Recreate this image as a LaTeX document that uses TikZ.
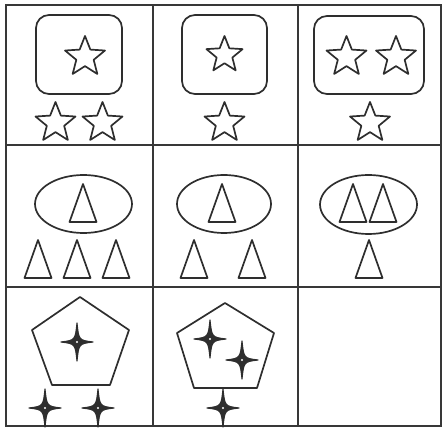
\documentclass[tikz,border=0pt]{standalone}
\usepackage{tikz}
\usetikzlibrary{shapes.geometric}

\tikzset{
  gridline/.style={line width=2.3pt, black!78},
  shapeline/.style={line width=1.7pt, black!82, line join=round},
  fivestar/.style={star, star points=5, star point ratio=2.3, draw, shapeline,
    inner sep=0pt, minimum size=42pt},
  sparkle/.pic={
    \draw[shapeline, line width=1.1pt, fill=black!82] (0,-19) .. controls (1.8,-1.8) .. (16,0)
      .. controls (1.8,1.8) .. (0,19) .. controls (-1.8,1.8) .. (-16,0)
      .. controls (-1.8,-1.8) .. cycle;
    \fill[white] (0,0) circle (1.2pt);
  }
}

\begin{document}
\begin{tikzpicture}[x=1pt, y=-1pt]
    \useasboundingbox (0,0) rectangle (442,430);

    % The 3x3 grid
    \draw[gridline] (6,5) rectangle (441,426);
    \draw[gridline] (153,5) -- (153,426);
    \draw[gridline] (298,5) -- (298,426);
    \draw[gridline] (6,145) -- (441,145);
    \draw[gridline] (6,287) -- (441,287);

    % Row 1: rounded boxes with stars
    \draw[shapeline, rounded corners=13pt] (36,15) rectangle (122,94);
    \node[fivestar] (s11in) at (85,57) {};
    \node[fivestar] (s11a) at (55.5,123) {};
    \node[fivestar] (s11b) at (102.5,123) {};

    \draw[shapeline, rounded corners=13pt] (182,15) rectangle (267,94);
    \node[fivestar, minimum size=38pt] (s12in) at (224.5,55) {};
    \node[fivestar] (s12a) at (224.5,123) {};

    \draw[shapeline, rounded corners=13pt] (314,16) rectangle (424,94);
    \node[fivestar] (s13ina) at (346.5,57) {};
    \node[fivestar] (s13inb) at (396,57) {};
    \node[fivestar] (s13a) at (370,123) {};

    % Row 2: ellipses with triangles
    \draw[shapeline] (83.5,204) ellipse (48.5pt and 29pt);
    \draw[shapeline] (224,204) ellipse (47pt and 29pt);
    \draw[shapeline] (368.5,204.5) ellipse (48.5pt and 29.5pt);
    \foreach \tx/\ty in {83/184, 38/240, 77/240, 116/240,
                         222/184, 194/240, 252/240,
                         353/184, 383/184, 369/240}
      \draw[shapeline] (\tx,\ty) -- ++(13.5,38) -- ++(-27,0) -- cycle;

    % Row 3: pentagons with sparkles
    \draw[shapeline] (80,297) -- (129,330) -- (110,385) -- (52,385) -- (32,330) -- cycle;
    \pic at (77,342) {sparkle};
    \pic at (45,408) {sparkle};
    \pic at (98,408) {sparkle};

    \draw[shapeline] (225,303) -- (274,333) -- (257,388) -- (194,388) -- (177,333) -- cycle;
    \pic at (210,339) {sparkle};
    \pic at (242,360) {sparkle};
    \pic at (223,408) {sparkle};
\end{tikzpicture}
\end{document}
